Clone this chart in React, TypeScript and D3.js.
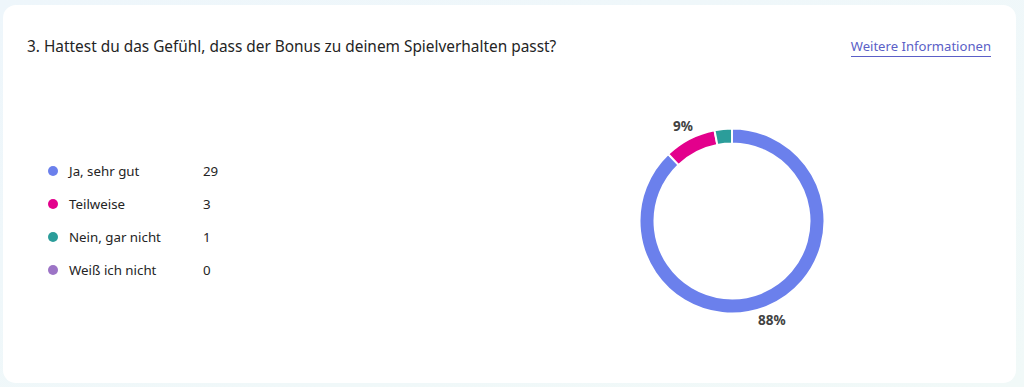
import * as d3 from 'd3'

// Answer options and response counts
const categories = ['Ja, sehr gut', 'Teilweise', 'Nein, gar nicht', 'Weiß ich nicht']
const counts = [29, 3, 1, 0]
const colors = ['#6b80ec', '#e3008c', '#2b9d9a', '#9c74c6']

const title = '3. Hattest du das Gefühl, dass der Bonus zu deinem Spielverhalten passt?'
const linkText = 'Weitere Informationen'

const W = 1024
const H = 387
const FONT = '"Noto Sans", "Open Sans", sans-serif'

export default function App() {
  const cx = 732
  const cy = 221
  const outerR = 92.5
  const innerR = 77.5
  const labelR = 107

  const total = d3.sum(counts)
  const rows = categories.map((c, i) => ({ name: c, value: counts[i], color: colors[i] }))

  const pie = d3
    .pie<{ name: string; value: number; color: string }>()
    .sort(null)
    .value((d) => d.value)
  const arcs = pie(rows).filter((a) => a.data.value > 0)

  const arc = d3.arc<d3.PieArcDatum<any>>().innerRadius(innerR).outerRadius(outerR)
  const labelArc = d3.arc<d3.PieArcDatum<any>>().innerRadius(labelR).outerRadius(labelR)

  // legend rows
  const legendY = d3.scalePoint<string>().domain(categories).range([171, 270])

  return (
    <div style={{ position: 'fixed', left: 0, top: 0, width: W, height: H }}>
      <svg width={W} height={H} style={{ display: 'block' }}>
        <defs>
          <linearGradient id="bg" x1="0" y1="0" x2="1" y2="1">
            <stop offset="0" stopColor="#eef6fb" />
            <stop offset="1" stopColor="#f1f9f8" />
          </linearGradient>
        </defs>
        <rect width={W} height={H} fill="url(#bg)" />
        <rect x={3} y={5} width={1013} height={378} rx={13} fill="#ffffff" />

        <text x={27} y={52} fontFamily={FONT} fontSize={15.4} fill="#242424">
          {title}
        </text>
        <text x={991} y={51} textAnchor="end" fontFamily={FONT} fontSize={13.1} fill="#5b5fc7">
          {linkText}
        </text>
        <line x1={851} x2={991} y1={56.5} y2={56.5} stroke="#5b5fc7" strokeWidth={1} />

        {rows.map((r) => {
          const y = legendY(r.name)!
          return (
            <g key={r.name}>
              <circle cx={53} cy={y} r={5} fill={r.color} />
              <text x={69} y={y} dy="0.35em" fontFamily={FONT} fontSize={13.3} fill="#242424">
                {r.name}
              </text>
              <text x={203} y={y} dy="0.35em" fontFamily={FONT} fontSize={13.3} fill="#242424">
                {r.value}
              </text>
            </g>
          )
        })}

        <g transform={`translate(${cx},${cy})`}>
          {arcs.map((a) => (
            <path key={a.data.name} d={arc(a) || ''} fill={a.data.color} stroke="#ffffff" strokeWidth={2} />
          ))}
          {arcs
            .filter((a) => a.data.value / total >= 0.05)
            .map((a) => {
              const [lx, ly] = labelArc.centroid(a)
              return (
                <text
                  key={a.data.name}
                  x={lx}
                  y={ly}
                  dy="0.35em"
                  textAnchor="middle"
                  fontFamily={FONT}
                  fontSize={13.5}
                  fontWeight={700}
                  fill="#424242"
                >
                  {`${Math.round((a.data.value / total) * 100)}%`}
                </text>
              )
            })}
        </g>
      </svg>
    </div>
  )
}
